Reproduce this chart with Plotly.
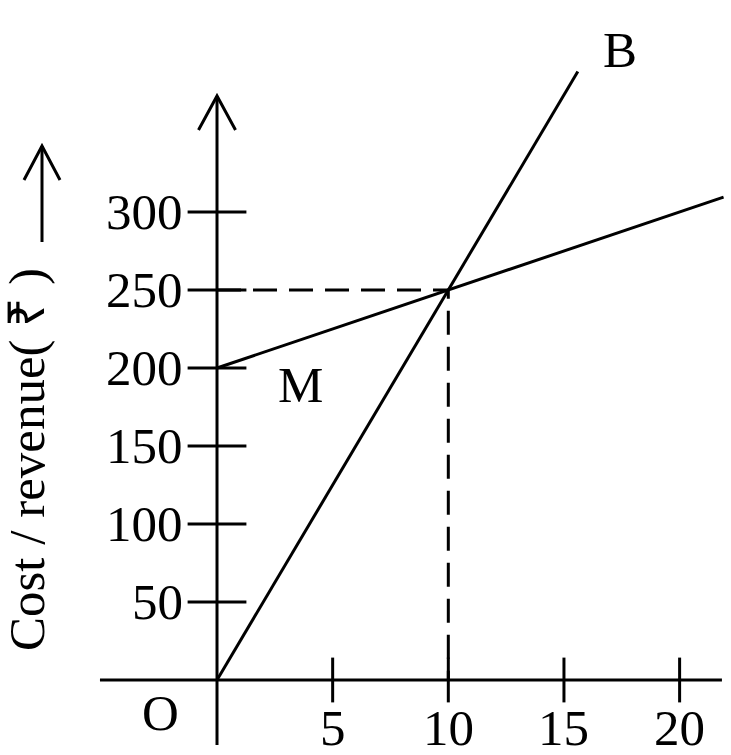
import plotly.graph_objects as go

W, H = 731, 755

# ---- data ----
x_ticks = [5, 10, 15, 20]
y_ticks = [50, 100, 150, 200, 250, 300]
revenue_x = [0, 15.6]          # line OB  (revenue = 25 x)
revenue_y = [0, 390]
cost_x = [0, 21.9]             # line M   (cost = 200 + 5 x)
cost_y = [200, 309.5]
breakeven_x = 10
breakeven_y = 250

# ---- scale / layout constants ----
X_RANGE = [-9.382, 22.222]
Y_RANGE = [-48.08, 435.9]
X_AXIS_EXT = [-5.06, 21.83]
Y_AXIS_EXT = [-41.7, 374.4]
FONT = "Liberation Serif"
LW = 3

def paper(px, py):
    return px / W, 1 - py / H

fig = go.Figure()

# cost line M
fig.add_trace(go.Scatter(x=cost_x, y=cost_y, mode="lines",
                         line=dict(color="black", width=LW), hoverinfo="skip"))
# revenue line OB
fig.add_trace(go.Scatter(x=revenue_x, y=revenue_y, mode="lines",
                         line=dict(color="black", width=LW), hoverinfo="skip"))
# break-even dashed guides
fig.add_trace(go.Scatter(x=[0, breakeven_x, breakeven_x], y=[breakeven_y, breakeven_y, 0],
                         mode="lines", line=dict(color="black", width=LW, dash="24px,12px"),
                         hoverinfo="skip"))
# tick marks (crossing the axes)
fig.add_trace(go.Scatter(x=x_ticks, y=[0] * len(x_ticks), mode="markers",
                         marker=dict(symbol="line-ns", size=32,
                                     line=dict(color="black", width=LW)), hoverinfo="skip"))
fig.add_trace(go.Scatter(x=[0] * len(y_ticks), y=y_ticks, mode="markers",
                         marker=dict(symbol="line-ew", size=42,
                                     line=dict(color="black", width=LW)), hoverinfo="skip"))

shapes = []
# axes
shapes.append(dict(type="line", xref="x", yref="y", x0=X_AXIS_EXT[0], x1=X_AXIS_EXT[1],
                   y0=0, y1=0, line=dict(color="black", width=LW)))
shapes.append(dict(type="line", xref="x", yref="y", x0=0, x1=0,
                   y0=Y_AXIS_EXT[0], y1=Y_AXIS_EXT[1], line=dict(color="black", width=LW)))
# y-axis arrowhead
top = Y_AXIS_EXT[1]
shapes.append(dict(type="path", xref="x", yref="y",
                   path=f"M -0.8,{top-21.8} L 0,{top} L 0.8,{top-21.8}",
                   line=dict(color="black", width=LW)))
# title arrow (pointing up)
ax0, ay0 = paper(42, 242)
ax1, ay1 = paper(42, 146)
shapes.append(dict(type="line", xref="paper", yref="paper", x0=ax0, y0=ay0, x1=ax1, y1=ay1,
                   line=dict(color="black", width=LW)))
l = paper(24, 180); r = paper(60, 180)
shapes.append(dict(type="path", xref="paper", yref="paper",
                   path=f"M {l[0]},{l[1]} L {ax1},{ay1} L {r[0]},{r[1]}",
                   line=dict(color="black", width=LW)))

ann = []
fs = 51
for v in y_ticks:
    ann.append(dict(x=0, y=v, xref="x", yref="y", text=str(v), showarrow=False,
                    xanchor="right", yanchor="middle", xshift=-32,
                    font=dict(family=FONT, size=fs, color="black")))
for v in x_ticks:
    ann.append(dict(x=v, y=0, xref="x", yref="y", text=str(v), showarrow=False,
                    xanchor="center", yanchor="middle", yshift=-48,
                    font=dict(family=FONT, size=fs, color="black")))
for txt, (px, py) in [("O", (160, 713)), ("M", (300, 385)), ("B", (620, 50))]:
    x, y = paper(px, py)
    ann.append(dict(x=x, y=y, xref="paper", yref="paper", text=txt, showarrow=False,
                    xanchor="center", yanchor="middle",
                    font=dict(family=FONT, size=fs, color="black")))
tx, ty = paper(27, 460)
ann.append(dict(x=tx, y=ty, xref="paper", yref="paper", text="Cost / revenue( ₹ )",
                showarrow=False, textangle=-90, xanchor="center", yanchor="middle",
                font=dict(family=FONT, size=fs, color="black")))

fig.update_layout(
    width=W, height=H, margin=dict(l=0, r=0, t=0, b=0),
    paper_bgcolor="white", plot_bgcolor="white", showlegend=False,
    xaxis=dict(range=X_RANGE, visible=False, fixedrange=True),
    yaxis=dict(range=Y_RANGE, visible=False, fixedrange=True),
    shapes=shapes, annotations=ann,
)
fig.write_html("out.html")
